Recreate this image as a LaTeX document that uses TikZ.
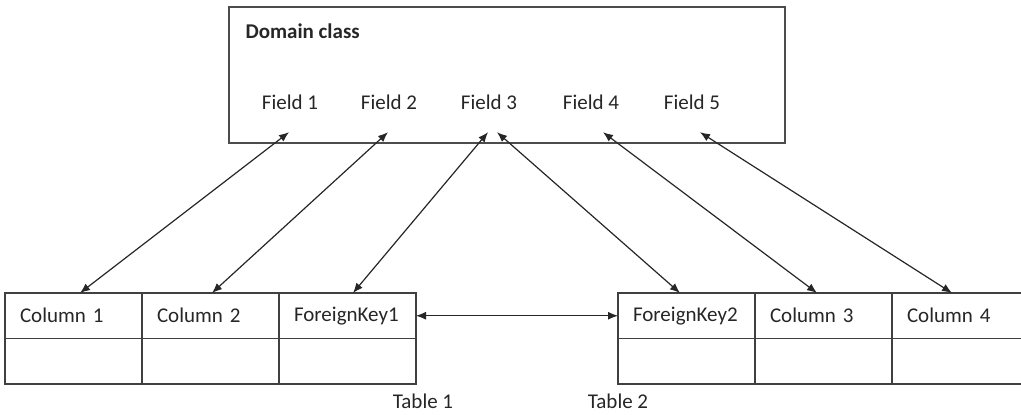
\documentclass[tikz,border=0pt]{standalone}
\usepackage{fontspec}
\setmainfont{Carlito}
\usetikzlibrary{positioning}
\usetikzlibrary{arrows.meta}
\newcommand*{\cellwidth}{137pt}
\newcommand*{\cellheight}{45.5pt}

\begin{document}
\begin{tikzpicture}[x=1pt, y=1pt,
    font=\fontsize{21}{25}\selectfont, text=black!85,
    cell/.style={draw=black!75, line width=1.3pt, outer sep=0pt, inner xsep=15pt, inner ysep=0pt,
        minimum height=\cellheight, text width=\cellwidth-30pt, align=left},
    field/.style={minimum height=60pt, inner sep=0pt},
    caption/.style={anchor=base, inner sep=0pt},
    link/.style={<->, >={Latex[length=10pt, width=8pt]}, draw=black!85, line width=1.2pt}]
    \useasboundingbox (0,0) rectangle (1021,415);
    % domain class box
    \node[draw=black!70, line width=1.7pt, outer sep=0pt, minimum width=556pt, minimum height=136pt] (domain) at (507,340) {};
    \node[anchor=west, font=\fontsize{21}{25}\selectfont\bfseries] (title) at ([xshift=13pt, yshift=-24pt]domain.north west) {Domain class};
    % fields
    \node[field] (f1) at (290,313) {Field 1};
    \node[field] (f2) at (389,313) {Field 2};
    \node[field] (f3) at (489,313) {Field 3};
    \node[field] (f4) at (591,313) {Field 4};
    \node[field] (f5) at (692,313) {Field 5};
    % table 1
    \node[cell, anchor=north west] (col1) at (5,122) {Column 1};
    \node[cell, right=0pt of col1] (col2) {Column 2};
    \node[cell, right=0pt of col2] (fk1) {ForeignKey1};
    \node[cell, below=0pt of col1] (col1b) {};
    \node[cell, below=0pt of col2] (col2b) {};
    \node[cell, below=0pt of fk1] (fk1b) {};
    \node[caption] (t1) at (423,6) {Table 1};
    % table 2
    \node[cell, anchor=north west] (fk2) at (618,122) {ForeignKey2};
    \node[cell, right=0pt of fk2] (col3) {Column 3};
    \node[cell, right=0pt of col3] (col4) {Column 4};
    \node[cell, below=0pt of fk2] (fk2b) {};
    \node[cell, below=0pt of col3] (col3b) {};
    \node[cell, below=0pt of col4] (col4b) {};
    \node[caption] (t2) at (618,6) {Table 2};
    % field to column links
    \draw[link] ([xshift=-1pt]f1.south) -- ([xshift=6.5pt]col1.north);
    \draw[link] ([xshift=-1pt]f2.south) -- ([xshift=1.5pt]col2.north);
    \draw[link] ([xshift=-1pt]f3.south) -- ([xshift=5.5pt]fk1.north);
    \draw[link] ([xshift=8pt]f3.south) -- ([xshift=-6.5pt]fk2.north);
    \draw[link] ([xshift=12pt]f4.south) -- ([xshift=-6.5pt]col3.north);
    \draw[link] ([xshift=8pt]f5.south) -- ([xshift=-8.5pt]col4.north);
    % foreign key link
    \draw[link] (fk1.east) -- (fk2.west);
\end{tikzpicture}
\end{document}
